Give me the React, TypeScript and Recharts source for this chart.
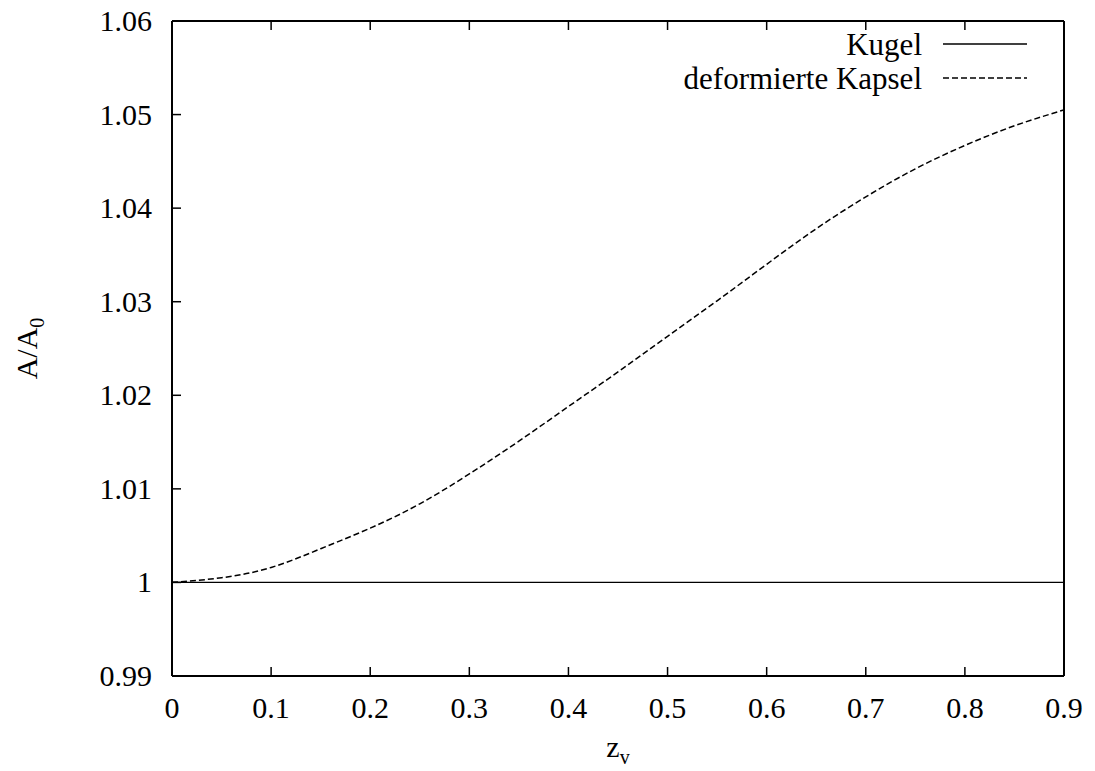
import { Legend, Line, LineChart, XAxis, YAxis } from 'recharts';

const zv = [0, 0.05, 0.1, 0.15, 0.2, 0.25, 0.3, 0.35, 0.4, 0.45, 0.5, 0.55, 0.6, 0.65, 0.7, 0.75, 0.8, 0.85, 0.9];
const kugel = [1, 1, 1, 1, 1, 1, 1, 1, 1, 1, 1, 1, 1, 1, 1, 1, 1, 1, 1];
const kapsel = [
  1.0, 1.0005, 1.0016, 1.0036, 1.0058, 1.0084, 1.0116, 1.0151, 1.0188, 1.0225, 1.0263, 1.0301, 1.034, 1.0378,
  1.0412, 1.0442, 1.0467, 1.0488, 1.0505,
];

const xTicks = [0, 0.1, 0.2, 0.3, 0.4, 0.5, 0.6, 0.7, 0.8, 0.9];
const yTicks = [0.99, 1.0, 1.01, 1.02, 1.03, 1.04, 1.05, 1.06];

const dados = zv.map((z, i) => ({ z, kugel: kugel[i], kapsel: kapsel[i] }));

const SERIF = '"Liberation Serif", "Times New Roman", Times, serif';
const FS = 30;
const TICK = 9;
const ACHSE = { stroke: '#000', strokeWidth: 2 };
const TICKLINIE = { stroke: '#000', strokeWidth: 1.5 };

const STIL: Record<string, { dash?: string; breite: number }> = {
  kugel: { breite: 1.3 },
  kapsel: { dash: '6 3', breite: 1.5 },
};

const fmt = (v: number) => String(Number(v.toFixed(2)));

// Ticks zeigen nach innen (gnuplot-Stil): negative tickSize, tickMargin gleicht aus
function TickUnten({ x, y, payload }: any) {
  return (
    <text x={x} y={y + 42} textAnchor="middle" fontFamily={SERIF} fontSize={FS} fill="#000">
      {fmt(payload.value)}
    </text>
  );
}

function TickLinks({ x, y, payload }: any) {
  return (
    <text x={x - 20} y={y + 10} textAnchor="end" fontFamily={SERIF} fontSize={FS} fill="#000">
      {fmt(payload.value)}
    </text>
  );
}

// Spiegelachsen oben/rechts: nur Striche, keine Beschriftung
function TickLeer() {
  return null;
}

function TitelY({ viewBox }: any) {
  const cx = 37;
  const cy = viewBox.y + viewBox.height / 2;
  return (
    <text
      x={cx}
      y={cy}
      transform={`rotate(-90, ${cx}, ${cy})`}
      textAnchor="middle"
      fontFamily={SERIF}
      fontSize={FS}
      fill="#000"
    >
      A/A<tspan dy={7} fontSize={20}>0</tspan>
    </text>
  );
}

function TitelX({ viewBox }: any) {
  const cx = viewBox.x + viewBox.width / 2;
  return (
    <text x={cx} y={757} textAnchor="middle" fontFamily={SERIF} fontSize={FS} fill="#000">
      z<tspan dy={7} fontSize={20}>v</tspan>
    </text>
  );
}

function Legende({ payload }: any) {
  return (
    <div style={{ fontFamily: SERIF, fontSize: 31, color: '#000' }}>
      {(payload ?? []).map((e: any) => {
        const s = STIL[e.dataKey] ?? { breite: 1.3 };
        return (
          <div
            key={e.dataKey}
            style={{ display: 'flex', alignItems: 'center', justifyContent: 'flex-end', height: 34 }}
          >
            <span style={{ lineHeight: 1 }}>{e.value}</span>
            <svg width={84} height={10} style={{ marginLeft: 21 }}>
              <line x1={0} y1={5} x2={84} y2={5} stroke="#000" strokeWidth={s.breite} strokeDasharray={s.dash} />
            </svg>
          </div>
        );
      })}
    </div>
  );
}

export default function App() {
  return (
    <div style={{ position: 'absolute', left: 0, top: 0, background: '#fff' }}>
      <LineChart width={1095} height={771} data={dados} margin={{ top: 20, right: 30, bottom: 0, left: 0 }}>
        <XAxis
          xAxisId="unten"
          dataKey="z"
          type="number"
          domain={[0, 0.9]}
          ticks={xTicks}
          interval={0}
          height={95}
          tickSize={-TICK}
          tickMargin={TICK}
          tickLine={TICKLINIE}
          axisLine={ACHSE}
          tick={<TickUnten />}
          label={<TitelX />}
        />
        <XAxis
          xAxisId="oben"
          orientation="top"
          dataKey="z"
          type="number"
          domain={[0, 0.9]}
          ticks={xTicks}
          interval={0}
          height={1}
          tickSize={-TICK}
          tickMargin={TICK}
          tickLine={TICKLINIE}
          axisLine={ACHSE}
          tick={<TickLeer />}
        />
        <YAxis
          yAxisId="links"
          type="number"
          domain={[0.99, 1.06]}
          ticks={yTicks}
          interval={0}
          width={172}
          tickSize={-TICK}
          tickMargin={TICK}
          tickLine={TICKLINIE}
          axisLine={ACHSE}
          tick={<TickLinks />}
          label={<TitelY />}
        />
        <YAxis
          yAxisId="rechts"
          orientation="right"
          type="number"
          domain={[0.99, 1.06]}
          ticks={yTicks}
          interval={0}
          width={1}
          tickSize={-TICK}
          tickMargin={TICK}
          tickLine={TICKLINIE}
          axisLine={ACHSE}
          tick={<TickLeer />}
        />
        <Legend
          layout="vertical"
          align="center"
          verticalAlign="middle"
          content={<Legende />}
          wrapperStyle={{ top: 27, right: 68, left: 'auto', width: 'auto' }}
        />
        <Line
          xAxisId="unten"
          yAxisId="links"
          dataKey="kugel"
          name="Kugel"
          stroke="#000"
          strokeWidth={STIL.kugel.breite}
          dot={false}
          type="linear"
          isAnimationActive={false}
        />
        <Line
          xAxisId="unten"
          yAxisId="links"
          dataKey="kapsel"
          name="deformierte Kapsel"
          stroke="#000"
          strokeWidth={STIL.kapsel.breite}
          strokeDasharray={STIL.kapsel.dash}
          dot={false}
          type="natural"
          isAnimationActive={false}
        />
      </LineChart>
    </div>
  );
}
